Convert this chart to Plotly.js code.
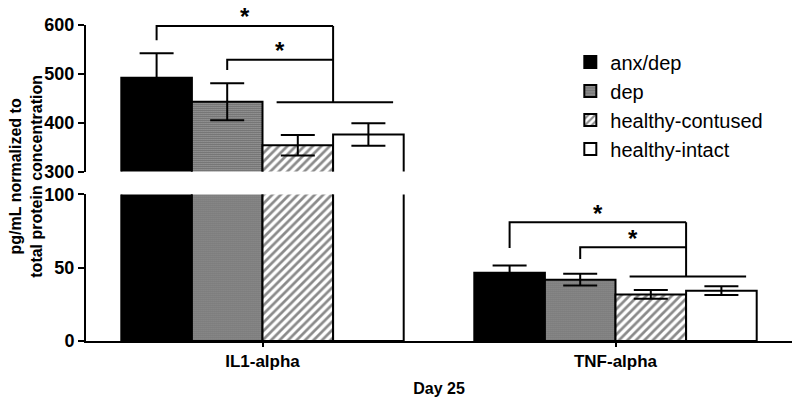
<!DOCTYPE html>
<html>
<head>
<meta charset="utf-8">
<script src="https://cdn.plot.ly/plotly-3.0.1.min.js"></script>
<style>body { margin: 0; background: #fff; }</style>
</head>
<body>
<div id="chart" style="width:800px;height:405px"></div>
<script>

// values
const categories = [ 'IL1-alpha', 'TNF-alpha' ];
const groups = [ 'anx/dep', 'dep', 'healthy-contused', 'healthy-intact' ];

const anxDepMean = [ 492, 46.5 ];
const depMean = [ 443, 41.8 ];
const contusedMean = [ 354, 31.8 ];
const intactMean = [ 376, 34.3 ];

const anxDepSem = [ 50, 5 ];
const depSem = [ 38, 4 ];
const contusedSem = [ 21, 3 ];
const intactSem = [ 23, 3 ];

// significance brackets, per category: [outer, inner]
const bracketTop = [ [ 598, 529 ], [ 81, 64 ] ];
const bracketFoot = [ [ 569, 508 ], [ 63.5, 56 ] ];
const bracketBase = [ 442, 44 ];

const topTicks = [ 300, 400, 500, 600 ];
const bottomTicks = [ 0, 50, 100 ];

const means = [ anxDepMean, depMean, contusedMean, intactMean ];
const sems = [ anxDepSem, depSem, contusedSem, intactSem ];

const fills = [
    { color: 'black' },
    { color: 'white', pattern: { shape: '.', fgcolor: 'black', bgcolor: 'white', size: 2, solidity: 0.55 } },
    { color: 'white', pattern: { shape: '/', fgcolor: '#8a8a8a', bgcolor: 'white', size: 6, solidity: 0.45 } },
    { color: 'white' }
];

const fontFamily = 'Liberation Sans, Arial, sans-serif';
const boldFont = { family: fontFamily, size: 18, color: 'black', weight: 'bold' };

const data = [];

// same bars drawn twice: once on the upper (broken) axis, once on the lower
[ 'y2', 'y' ].forEach( ( yax, k ) => {

    groups.forEach( ( name, i ) => {

        data.push( {
            type: 'bar',
            name: name,
            x: categories,
            y: means[ i ],
            yaxis: yax,
            showlegend: k == 0,
            marker: Object.assign( { line: { color: 'black', width: 2 } }, fills[ i ] ),
            error_y: { type: 'data', array: sems[ i ], visible: true, color: 'black', thickness: 2, width: 17 }
        } );

    } );

} );

// bracket geometry from the bar slots (bargap 0.2, 4 bars per group)
const barW = 0.8 / groups.length;
const slot = i => -0.4 + barW * ( i + 0.5 );

const shapes = [];
const annotations = [];

categories.forEach( ( cat, c ) => {

    const yref = c == 0 ? 'y2' : 'y';
    const stem = c + ( slot( 2 ) + slot( 3 ) ) / 2;
    const line = { color: 'black', width: 2 };

    [ 0, 1 ].forEach( j => {

        const x0 = c + slot( j );
        shapes.push( {
            type: 'path', xref: 'x', yref: yref, line: line,
            path: `M${x0},${bracketFoot[ c ][ j ]} L${x0},${bracketTop[ c ][ j ]} L${stem},${bracketTop[ c ][ j ]}`
        } );

        annotations.push( {
            text: '*', xref: 'x', yref: yref, x: ( x0 + stem ) / 2, y: bracketTop[ c ][ j ],
            xanchor: 'center', yanchor: 'middle', yshift: 9, showarrow: false,
            font: { family: fontFamily, size: 24, color: 'black', weight: 'bold' }
        } );

    } );

    shapes.push( {
        type: 'line', xref: 'x', yref: yref, line: line,
        x0: stem, x1: stem, y0: bracketTop[ c ][ 0 ], y1: bracketBase[ c ]
    } );

    shapes.push( {
        type: 'line', xref: 'x', yref: yref, line: line,
        x0: c + slot( 2 ) - 0.06, x1: c + slot( 3 ) + 0.07, y0: bracketBase[ c ], y1: bracketBase[ c ]
    } );

} );

annotations.push( {
    text: 'pg/mL normalized to<br>total protein concentration',
    xref: 'paper', yref: 'paper', x: -0.085, y: 0.523, textangle: -90,
    xanchor: 'center', yanchor: 'middle',
    showarrow: false, font: Object.assign( {}, boldFont, { size: 16 } )
} );

const axisStyle = {
    showline: true, linecolor: 'black', linewidth: 2,
    ticks: 'outside', ticklen: 6, tickwidth: 2, tickcolor: 'black',
    showgrid: false, zeroline: false, tickfont: boldFont, fixedrange: true
};

const layout = {
    width: 800,
    height: 405,
    margin: { l: 86, r: 8, t: 25, b: 64 },
    paper_bgcolor: 'white',
    plot_bgcolor: 'white',
    barmode: 'group',
    bargap: 0.2,
    bargroupgap: 0,
    xaxis: Object.assign( {}, axisStyle, {
        range: [ -0.5, 1.5 ], ticklen: 4, tickfont: Object.assign( {}, boldFont, { size: 17 } ),
        title: { text: 'Day 25', font: Object.assign( {}, boldFont, { size: 16 } ), standoff: 12 }
    } ),
    yaxis: Object.assign( {}, axisStyle, {
        domain: [ 0, 0.464 ], range: [ 0, 100 ], tickvals: bottomTicks
    } ),
    yaxis2: Object.assign( {}, axisStyle, {
        domain: [ 0.536, 1 ], range: [ 300, 600 ], tickvals: topTicks, anchor: 'x'
    } ),
    legend: {
        x: 0.686, y: 0.945, xanchor: 'left', yanchor: 'top',
        font: { family: fontFamily, size: 20, color: 'black' },
        bgcolor: 'rgba(0,0,0,0)'
    },
    shapes: shapes,
    annotations: annotations
};

Plotly.newPlot( 'chart', data, layout, { displayModeBar: false, staticPlot: true } );

</script>
</body>
</html>
